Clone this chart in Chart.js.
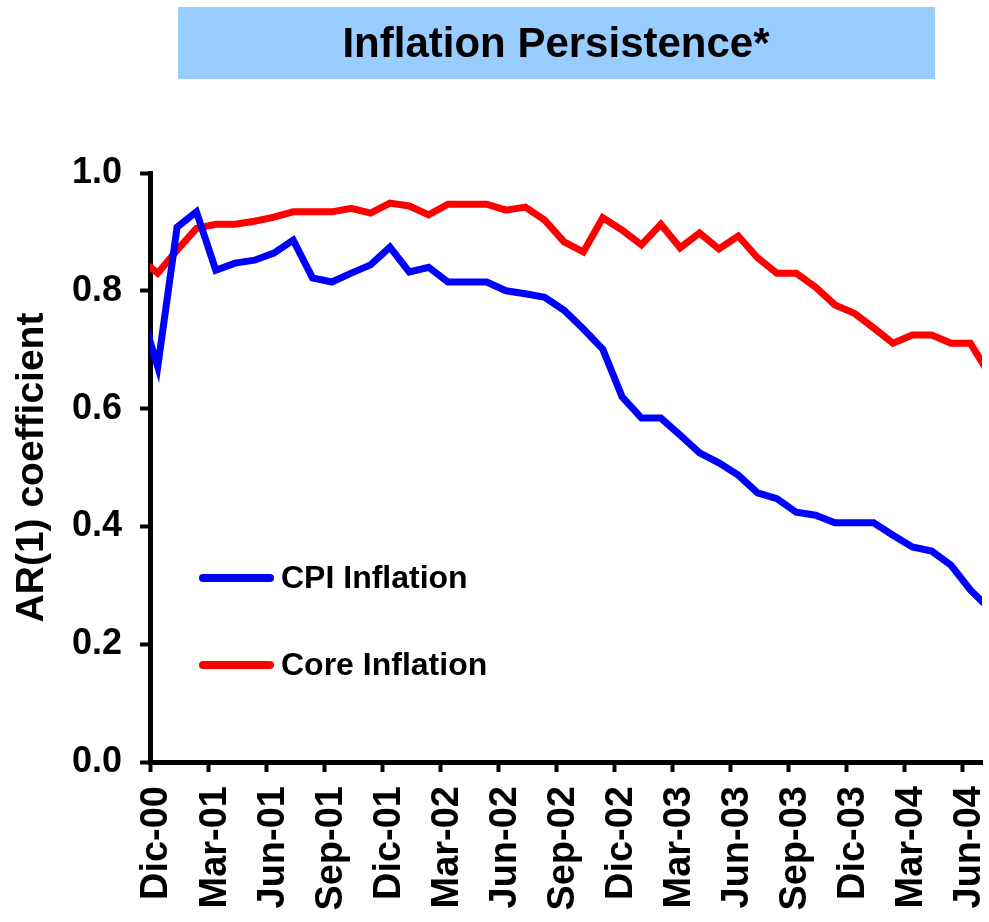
<!DOCTYPE html>
<html>
<head>
<meta charset="utf-8">
<title>Inflation Persistence</title>
<script src="https://cdn.jsdelivr.net/npm/chart.js@4"></script>
<style>
  html, body { margin: 0; padding: 0; background: #fff; }
  #wrap { width: 989px; height: 922px; }
</style>
</head>
<body>
<div id="wrap"><canvas id="chart" width="989" height="922"></canvas></div>
<script>
// Monthly observations (Spanish month names, as on the slide)
const months = [
  'Nov-00', 'Dic-00',
  'Ene-01', 'Feb-01', 'Mar-01', 'Abr-01', 'May-01', 'Jun-01', 'Jul-01', 'Ago-01', 'Sep-01', 'Oct-01', 'Nov-01', 'Dic-01',
  'Ene-02', 'Feb-02', 'Mar-02', 'Abr-02', 'May-02', 'Jun-02', 'Jul-02', 'Ago-02', 'Sep-02', 'Oct-02', 'Nov-02', 'Dic-02',
  'Ene-03', 'Feb-03', 'Mar-03', 'Abr-03', 'May-03', 'Jun-03', 'Jul-03', 'Ago-03', 'Sep-03', 'Oct-03', 'Nov-03', 'Dic-03',
  'Ene-04', 'Feb-04', 'Mar-04', 'Abr-04', 'May-04', 'Jun-04', 'Jul-04'
];

// AR(1) coefficient, CPI inflation
const cpiInflation = [
  0.78, 0.671,
  0.908, 0.934, 0.835, 0.847, 0.852, 0.864, 0.886, 0.822, 0.815, 0.830, 0.844, 0.874,
  0.832, 0.840, 0.815, 0.815, 0.815, 0.800, 0.795, 0.789, 0.767, 0.735, 0.701, 0.620,
  0.584, 0.584, 0.555, 0.525, 0.508, 0.487, 0.457, 0.447, 0.424, 0.419, 0.406, 0.406,
  0.406, 0.385, 0.365, 0.358, 0.334, 0.292, 0.26
];

// AR(1) coefficient, core inflation
const coreInflation = [
  0.856, 0.830,
  0.869, 0.906, 0.913, 0.913, 0.918, 0.925, 0.934, 0.934, 0.934, 0.940, 0.932, 0.949,
  0.944, 0.929, 0.947, 0.947, 0.947, 0.937, 0.942, 0.920, 0.883, 0.866, 0.924, 0.903,
  0.878, 0.913, 0.873, 0.898, 0.871, 0.893, 0.856, 0.830, 0.830, 0.806, 0.776, 0.762,
  0.737, 0.711, 0.725, 0.725, 0.711, 0.711, 0.657
];

// Quarterly tick labels on the date axis
const tickLabels = [
  'Dic-00', 'Mar-01', 'Jun-01', 'Sep-01', 'Dic-01', 'Mar-02', 'Jun-02', 'Sep-02',
  'Dic-02', 'Mar-03', 'Jun-03', 'Sep-03', 'Dic-03', 'Mar-04', 'Jun-04'
];
const yTicks = [0, 0.2, 0.4, 0.6, 0.8, 1.0];

const titleText = 'Inflation Persistence*';
const yTitle = 'AR(1) coefficient';

// observations fall mid-month on the date axis
const midMonth = 0.4;
const FONT = '"Liberation Sans", Arial, sans-serif';

function toPoints(values) {
    return values.map((v, i) => ({ x: i + midMonth, y: v }));
}

// Title box drawn above the plot
const titleBox = {
    id: 'titleBox',
    beforeDraw(chart) {
        const ctx = chart.ctx;
        ctx.save();
        ctx.fillStyle = '#99CCFF';
        ctx.fillRect(178, 7, 757, 72);
        ctx.fillStyle = '#000';
        ctx.font = 'bold 42px ' + FONT;
        ctx.textAlign = 'center';
        ctx.textBaseline = 'middle';
        ctx.fillText(titleText, 556, 45);
        ctx.restore();
    }
};

// Legend sitting inside the plot, lower left
const insideLegend = {
    id: 'insideLegend',
    afterDatasetsDraw(chart) {
        const ctx = chart.ctx;
        const rows = [578, 665];
        ctx.save();
        chart.data.datasets.forEach((ds, i) => {
            const y = rows[i];
            ctx.strokeStyle = ds.borderColor;
            ctx.lineWidth = 8;
            ctx.lineCap = 'round';
            ctx.beginPath();
            ctx.moveTo(203, y);
            ctx.lineTo(270, y);
            ctx.stroke();
            ctx.fillStyle = '#000';
            ctx.font = 'bold 32px ' + FONT;
            ctx.textAlign = 'left';
            ctx.textBaseline = 'middle';
            ctx.fillText(ds.label, 281, y + 1);
        });
        ctx.restore();
    }
};

const ctx = document.getElementById('chart').getContext('2d');
Chart.defaults.color = '#000';

new Chart(ctx, {
    type: 'line',
    data: {
        datasets: [{
            label: 'CPI Inflation',
            data: toPoints(cpiInflation),
            borderColor: '#0000FF',
            borderWidth: 7,
            pointRadius: 0,
            tension: 0,
            fill: false,
            clip: 0
        }, {
            label: 'Core Inflation',
            data: toPoints(coreInflation),
            borderColor: '#FF0000',
            borderWidth: 7,
            pointRadius: 0,
            tension: 0,
            fill: false,
            clip: 0
        }]
    },
    options: {
        responsive: false,
        animation: false,
        layout: { padding: { top: 173, right: 7, left: 0, bottom: 0 } },
        plugins: {
            legend: { display: false },
            tooltip: { enabled: false }
        },
        scales: {
            x: {
                type: 'linear',
                min: months.indexOf('Dic-00'),
                max: months.indexOf('Jul-04'),
                afterBuildTicks: (axis) => {
                    axis.ticks = tickLabels.map(l => ({ value: months.indexOf(l) }));
                },
                afterFit: (axis) => {
                    axis.height = 160;
                    axis.paddingLeft = 0;
                    axis.paddingRight = 0;
                },
                ticks: {
                    autoSkip: false,
                    minRotation: 90,
                    maxRotation: 90,
                    padding: 14,
                    labelOffset: 7,
                    font: { family: FONT, size: 38, weight: 'bold' },
                    callback: (value) => months[value]
                },
                grid: {
                    drawOnChartArea: false,
                    tickLength: 10,
                    tickWidth: 4,
                    tickColor: '#000',
                    color: '#000'
                },
                border: { display: true, color: '#000', width: 5 }
            },
            y: {
                min: 0,
                max: 1,
                afterBuildTicks: (axis) => {
                    axis.ticks = yTicks.map(v => ({ value: v }));
                },
                afterFit: (axis) => { axis.width = 150; },
                ticks: {
                    padding: 18,
                    font: { family: FONT, size: 36, weight: 'bold' },
                    callback: (value) => value.toFixed(1)
                },
                grid: {
                    drawOnChartArea: false,
                    tickLength: 10,
                    tickWidth: 4,
                    tickColor: '#000',
                    color: '#000'
                },
                border: { display: true, color: '#000', width: 5 },
                title: {
                    display: true,
                    text: yTitle,
                    font: { family: FONT, size: 39, weight: 'bold' },
                    padding: { top: 9, bottom: 0 }
                }
            }
        }
    },
    plugins: [titleBox, insideLegend]
});
</script>
</body>
</html>
